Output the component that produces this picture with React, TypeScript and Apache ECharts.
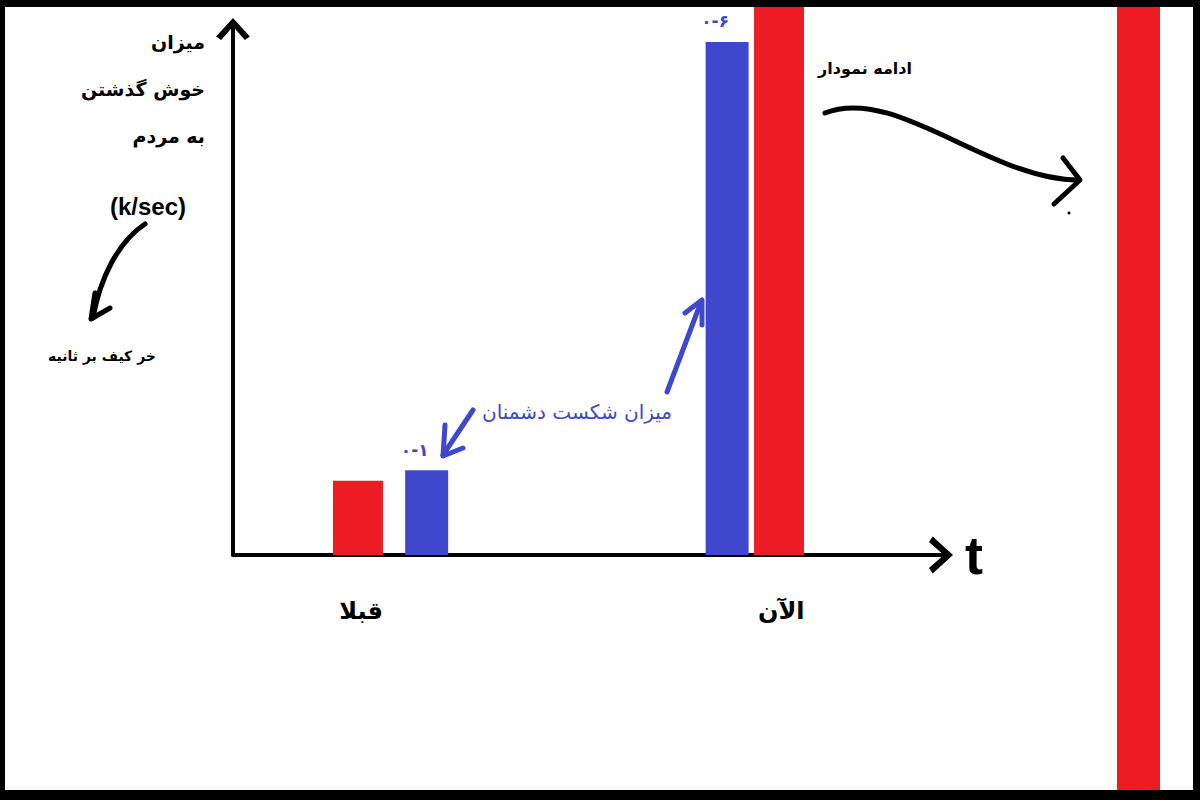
import { useEffect, useRef } from 'react';
import * as echarts from 'echarts';

// t-axis categories and where they sit on the time axis
const timeLabels = ['قبلا', 'الآن'];
const timeLabelAt = [18, 77];

// red: fun had by the people (k/sec)
const funTime = [17.06, 76.2];
const funValue = [14, 110];

// blue: enemy defeat rate
const enemyTime = [27.2, 69.4];
const enemyValue = [16, 96.8];
const enemyLabels = ['۰-۱', '۰-۶'];

// the red "now" bar that keeps going off the chart
const continuedLabels = ['ادامه'];
const continuedValue = [100];

const RED = '#ed1c24';
const BLUE = '#3f48cc';
const FA = '"DejaVu Sans", "Noto Sans", sans-serif';

// chevron pointing up, used as the axis arrow heads
const CHEVRON = 'path://M10,0 L20,11 L17,13 L10,5 L3,13 L0,11 Z';

function txt(text: string, x: number, y: number, font: string, fill = '#000', align = 'center') {
  return {
    type: 'text',
    style: {
      text, x, y, font, fill,
      textAlign: align, align,
      textVerticalAlign: 'middle', verticalAlign: 'middle',
    },
  };
}

function stroke(color: string) {
  return { stroke: color, lineWidth: 5, lineCap: 'round', lineJoin: 'round', fill: 'none' };
}

export default function App() {
  const ref = useRef<HTMLDivElement>(null);

  useEffect(() => {
    if (!ref.current) return;
    const chart = echarts.init(ref.current, null, { renderer: 'svg' });

    const option: any = {
      animation: false,
      backgroundColor: '#fff',
      grid: [
        { left: 233, right: 255, top: 25, bottom: 245 },
        { left: 1117, width: 43, top: 0, bottom: 0 },
      ],
      xAxis: [
        {
          type: 'value',
          min: 0,
          max: 100,
          name: 't',
          nameLocation: 'end',
          nameGap: 20,
          nameTextStyle: {
            fontSize: 54, fontWeight: 'bold', color: '#000',
            fontFamily: '"Liberation Sans", Arial, sans-serif',
            padding: [8, 0, 0, 0],
          },
          axisLine: {
            lineStyle: { color: '#000', width: 4 },
            symbol: ['none', CHEVRON],
            symbolSize: [46, 24],
            symbolOffset: [0, -4],
          },
          axisTick: { show: false },
          splitLine: { show: false },
          axisLabel: {
            customValues: timeLabelAt,
            formatter: (v: number) => {
              const i = timeLabelAt.indexOf(v);
              return i >= 0 ? timeLabels[i] : '';
            },
            margin: 44,
            fontSize: 24,
            fontWeight: 'bold',
            fontFamily: FA,
            color: '#000',
          },
        },
        {
          gridIndex: 1,
          type: 'category',
          data: continuedLabels,
          show: false,
        },
      ],
      yAxis: [
        {
          type: 'value',
          min: 0,
          max: 100,
          axisLine: {
            show: true,
            lineStyle: { color: '#000', width: 4 },
            symbol: ['none', CHEVRON],
            symbolSize: [38, 22],
            symbolOffset: [0, -4],
          },
          axisTick: { show: false },
          axisLabel: { show: false },
          splitLine: { show: false },
        },
        { gridIndex: 1, type: 'value', min: 0, max: 100, show: false },
      ],
      series: [
        {
          name: 'خوش گذشتن به مردم',
          type: 'bar',
          data: funTime.map((t, i) => [t, funValue[i]]),
          barWidth: 50,
          barGap: '-100%',
          clip: false,
          itemStyle: { color: RED },
          z: 1,
        },
        {
          name: 'میزان شکست دشمنان',
          type: 'bar',
          data: enemyTime.map((t, i) => [t, enemyValue[i]]),
          barWidth: 43,
          barGap: '-100%',
          itemStyle: { color: BLUE },
          label: {
            show: true,
            position: 'top',
            distance: 12,
            offset: [-12, 0],
            formatter: (p: any) => enemyLabels[p.dataIndex],
            color: BLUE,
            fontSize: 17,
            fontWeight: 'bold',
            fontFamily: FA,
          },
          z: 2,
        },
        {
          name: 'ادامه نمودار',
          type: 'bar',
          xAxisIndex: 1,
          yAxisIndex: 1,
          data: continuedValue,
          barWidth: '100%',
          itemStyle: { color: RED },
        },
      ],
      graphic: [
        // y axis title
        txt('میزان', 205, 42, `bold 19px ${FA}`, '#000', 'right'),
        txt('خوش گذشتن', 205, 89, `bold 19px ${FA}`, '#000', 'right'),
        txt('به مردم', 205, 136, `bold 19px ${FA}`, '#000', 'right'),
        txt('(k/sec)', 148, 206, `bold 24px "Liberation Sans", Arial, sans-serif`),
        txt('خر کیف بر ثانیه', 102, 356, `bold 14px ${FA}`),
        {
          type: 'bezierCurve',
          shape: { x1: 145, y1: 224, cpx1: 118, cpy1: 242, cpx2: 100, cpy2: 278, x2: 93, y2: 318 },
          style: stroke('#000'),
        },
        {
          type: 'polyline',
          shape: { points: [[95, 293], [91, 319], [110, 308]] },
          style: stroke('#000'),
        },
        // enemy annotation
        txt('میزان شکست دشمنان', 577, 412, `20px ${FA}`, BLUE),
        {
          type: 'line',
          shape: { x1: 473, y1: 410, x2: 443, y2: 455 },
          style: stroke(BLUE),
        },
        {
          type: 'polyline',
          shape: { points: [[445, 425], [443, 456], [463, 448]] },
          style: stroke(BLUE),
        },
        {
          type: 'line',
          shape: { x1: 667, y1: 392, x2: 701, y2: 302 },
          style: stroke(BLUE),
        },
        {
          type: 'polyline',
          shape: { points: [[685, 313], [702, 300], [702, 325]] },
          style: stroke(BLUE),
        },
        // continuation annotation
        txt('ادامه نمودار', 865, 68, `bold 16px ${FA}`),
        {
          type: 'bezierCurve',
          shape: { x1: 825, y1: 113, cpx1: 895, cpy1: 85, cpx2: 990, cpy2: 180, x2: 1078, y2: 180 },
          style: stroke('#000'),
        },
        {
          type: 'polyline',
          shape: { points: [[1063, 158], [1080, 180], [1054, 204]] },
          style: stroke('#000'),
        },
        { type: 'circle', shape: { cx: 1069, cy: 213, r: 1.5 }, style: { fill: '#000' } },
      ],
    };

    chart.setOption(option);
    return () => chart.dispose();
  }, []);

  return (
    <div style={{ position: 'absolute', left: 0, top: 0, width: 1200, height: 800 }}>
      <div ref={ref} style={{ width: 1200, height: 800 }} />
      <div
        style={{
          position: 'absolute', left: 0, top: 0, width: 1200, height: 800,
          boxSizing: 'border-box', pointerEvents: 'none',
          borderStyle: 'solid', borderColor: '#000',
          borderWidth: '7px 7px 10px 5px',
        }}
      />
    </div>
  );
}
